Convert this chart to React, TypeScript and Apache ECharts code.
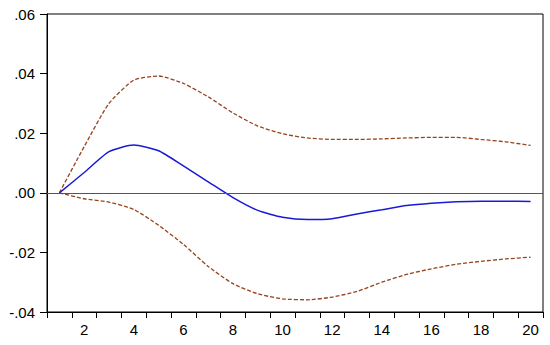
import React, { useEffect, useRef } from "react";
import * as echarts from "echarts";

const periods = ["1","2","3","4","5","6","7","8","9","10","11","12","13","14","15","16","17","18","19","20"];
const response = [0, 0.0068, 0.0138, 0.0160, 0.0141, 0.0090, 0.0037, -0.0016, -0.0059, -0.0082, -0.0090, -0.0087, -0.0071, -0.0057, -0.0043, -0.0035, -0.0030, -0.0028, -0.0028, -0.0029];
const upperBand = [0, 0.0155, 0.0300, 0.0378, 0.0392, 0.0367, 0.0322, 0.0268, 0.0224, 0.0198, 0.0184, 0.0179, 0.0179, 0.0181, 0.0184, 0.0186, 0.0186, 0.0179, 0.0171, 0.0159];
const lowerBand = [0, -0.0020, -0.0031, -0.0056, -0.0109, -0.0173, -0.0247, -0.0305, -0.0339, -0.0356, -0.0359, -0.0350, -0.0331, -0.0300, -0.0274, -0.0255, -0.0240, -0.0230, -0.0222, -0.0216];

const fmt = (v: number) => {
  const s = Math.abs(v).toFixed(2).replace(/^0/, "");
  return v < -1e-9 ? "-" + s : s;
};

export default function App() {
  const ref = useRef<HTMLDivElement>(null);
  useEffect(() => {
    if (!ref.current) return;
    const chart = echarts.init(ref.current, null, { renderer: "svg" });
    const font = "Liberation Sans, Arial, sans-serif";
    const bandStyle = { color: "#96441c", width: 1.3, type: [4, 2] as any };
    chart.setOption({
      animation: false,
      backgroundColor: "#ffffff",
      grid: {
        left: 47, right: 7, top: 14, bottom: 33,
        show: true, borderColor: "#000", borderWidth: 1, backgroundColor: "transparent",
      },
      xAxis: {
        type: "category",
        data: periods,
        boundaryGap: true,
        axisLine: { onZero: false, lineStyle: { color: "#000", width: 1 } },
        axisTick: { show: true, interval: 0, alignWithLabel: false, length: 6, lineStyle: { color: "#000" } },
        axisLabel: {
          interval: (index: number) => index % 2 === 1,
          color: "#000", fontFamily: font, fontSize: 15, margin: 10,
        },
        splitLine: { show: false },
      },
      yAxis: {
        type: "value",
        min: -0.04, max: 0.06, interval: 0.02,
        axisLine: { show: true, lineStyle: { color: "#000", width: 1 } },
        axisTick: { show: true, length: 7, lineStyle: { color: "#000" } },
        axisLabel: { formatter: fmt, color: "#000", fontFamily: font, fontSize: 15, margin: 12 },
        splitLine: { show: false },
      },
      series: [
        {
          type: "line", data: upperBand, symbol: "none", smooth: 0.2,
          lineStyle: bandStyle, z: 3,
        },
        {
          type: "line", data: lowerBand, symbol: "none", smooth: 0.2,
          lineStyle: bandStyle, z: 3,
        },
        {
          type: "line", data: response, symbol: "none", smooth: 0.2,
          lineStyle: { color: "#1a1ad6", width: 1.5 }, z: 4,
          markLine: {
            silent: true, symbol: "none", label: { show: false },
            lineStyle: { color: "#555", width: 1, type: "solid" },
            data: [{ yAxis: 0 }],
          },
        },
      ],
    });
    return () => chart.dispose();
  }, []);
  return <div ref={ref} style={{ position: "fixed", left: 0, top: 0, width: 550, height: 345 }} />;
}
